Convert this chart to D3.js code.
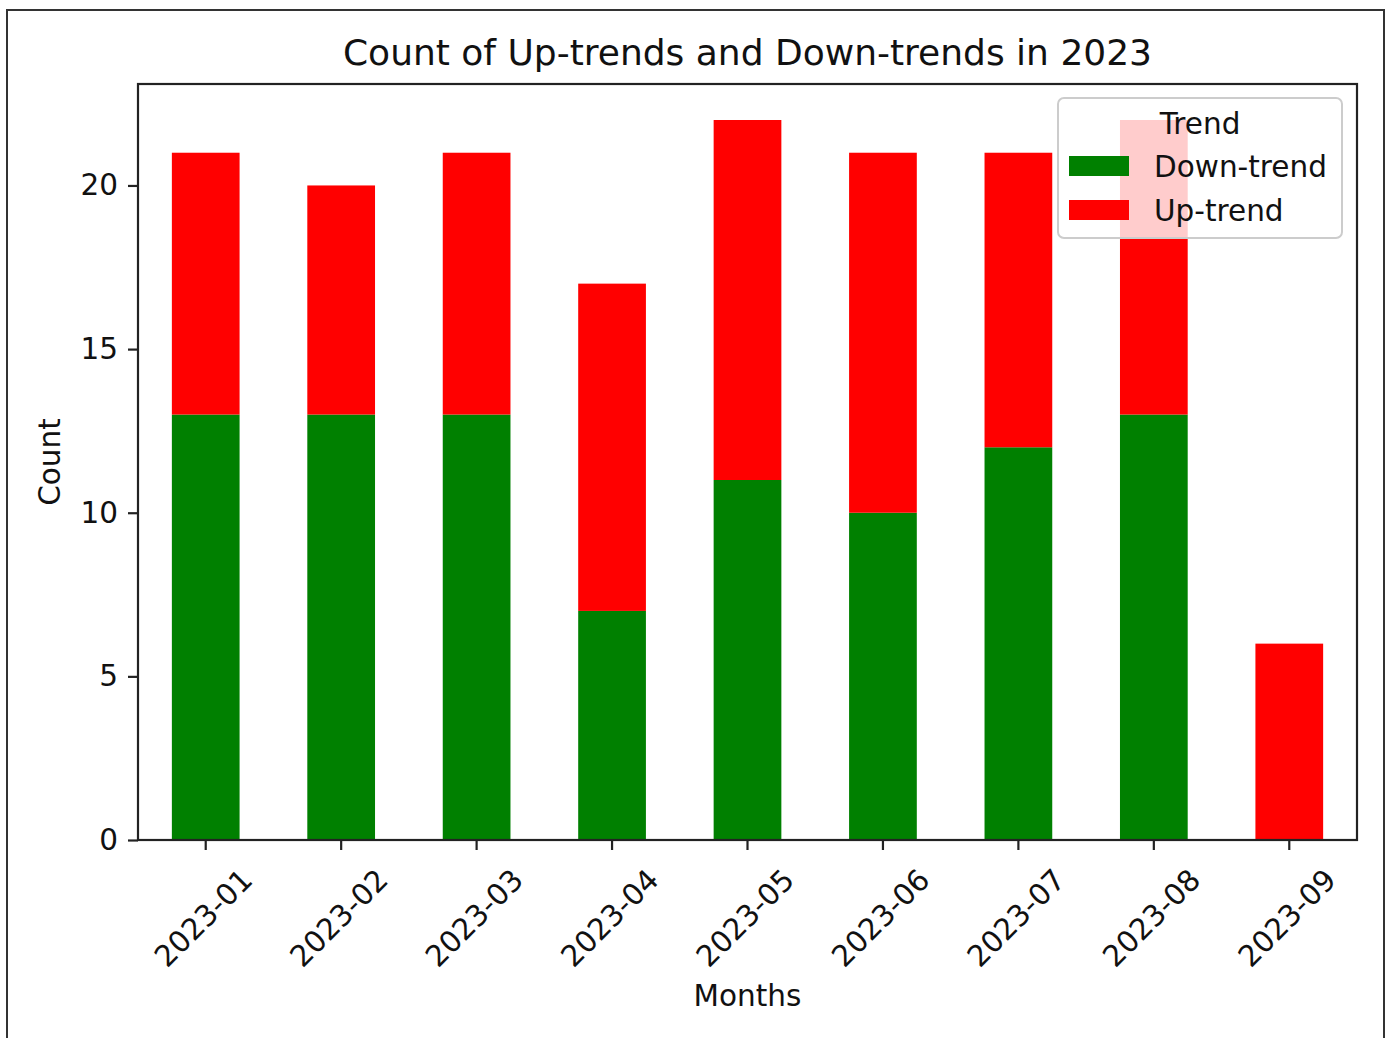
<!DOCTYPE html>
<html>
<head>
<meta charset="utf-8">
<script src="https://cdn.jsdelivr.net/npm/d3@7"></script>
<style>
  html, body { margin: 0; padding: 0; background: #fff; }
  svg { display: block; font-family: "DejaVu Sans", sans-serif; }
</style>
</head>
<body>
<svg id="chart" width="1392" height="1038"></svg>
<script>
// Monthly counts of trend days, stacked Down-trend (bottom) then Up-trend (top)
const months = ["2023-01", "2023-02", "2023-03", "2023-04", "2023-05", "2023-06", "2023-07", "2023-08", "2023-09"];
const downTrend = [13, 13, 13, 7, 11, 10, 12, 13, 0];
const upTrend = [8, 7, 8, 10, 11, 11, 9, 9, 6];
const seriesNames = ["Down-trend", "Up-trend"];
const seriesColors = ["#008000", "#ff0000"];
const yTicks = [0, 5, 10, 15, 20];

const svg = d3.select("#chart");
const plot = { left: 138, right: 1357, top: 84, bottom: 840 };
const fs = 29.5;      // tick / label font size
const titleFs = 36;   // title font size

// Figure frame
svg.append("rect")
  .attr("x", 7).attr("y", 10)
  .attr("width", 1377).attr("height", 1040)
  .attr("fill", "#fff").attr("stroke", "#333").attr("stroke-width", 2);

const rows = months.map((m, i) => ({ month: m, "Down-trend": downTrend[i], "Up-trend": upTrend[i] }));
const stacked = d3.stack().keys(seriesNames)(rows);
const maxTotal = d3.max(rows, r => r["Down-trend"] + r["Up-trend"]);

const x = d3.scaleBand().domain(months).range([plot.left, plot.right]).paddingInner(0.5).paddingOuter(0.25);
const y = d3.scaleLinear().domain([0, maxTotal * 1.05]).range([plot.bottom, plot.top]);

// Bars
const g = svg.append("g");
stacked.forEach((layer, k) => {
  g.append("g").attr("fill", seriesColors[k])
    .selectAll("rect").data(layer).join("rect")
    .attr("x", d => x(d.data.month))
    .attr("width", x.bandwidth())
    .attr("y", d => y(d[1]))
    .attr("height", d => y(d[0]) - y(d[1]));
});

// Y axis
const yAxis = svg.append("g").attr("transform", `translate(${plot.left},0)`)
  .call(d3.axisLeft(y).tickValues(yTicks).tickSize(10).tickPadding(10).tickFormat(d3.format("d")));
yAxis.select(".domain").remove();
yAxis.selectAll(".tick line").attr("stroke", "#222").attr("stroke-width", 2.2);
yAxis.selectAll(".tick text").attr("font-size", fs).attr("fill", "#111")
  .attr("font-family", "DejaVu Sans");

// X axis
const xAxis = svg.append("g").attr("transform", `translate(0,${plot.bottom})`)
  .call(d3.axisBottom(x).tickSize(10).tickPadding(10));
xAxis.select(".domain").remove();
xAxis.selectAll(".tick line").attr("stroke", "#222").attr("stroke-width", 2.2);
xAxis.selectAll(".tick text")
  .attr("font-size", fs).attr("fill", "#111").attr("font-family", "DejaVu Sans")
  .attr("text-anchor", "middle").attr("dominant-baseline", "central")
  .attr("x", -3).attr("y", 0).attr("dy", null)
  .attr("transform", "translate(0,76) rotate(-45)");

// Plot frame
svg.append("rect")
  .attr("x", plot.left).attr("y", plot.top)
  .attr("width", plot.right - plot.left).attr("height", plot.bottom - plot.top)
  .attr("fill", "none").attr("stroke", "#222").attr("stroke-width", 2.2);

// Titles
svg.append("text").attr("x", (plot.left + plot.right) / 2).attr("y", 65)
  .attr("text-anchor", "middle").attr("font-size", titleFs).attr("fill", "#111")
  .text("Count of Up-trends and Down-trends in 2023");
svg.append("text").attr("x", (plot.left + plot.right) / 2).attr("y", 1006)
  .attr("text-anchor", "middle").attr("font-size", fs).attr("fill", "#111")
  .text("Months");
svg.append("text").attr("transform", `translate(60,${(plot.top + plot.bottom) / 2}) rotate(-90)`)
  .attr("text-anchor", "middle").attr("font-size", fs).attr("fill", "#111")
  .text("Count");

// Legend
const lg = svg.append("g");
lg.append("rect").attr("x", 1058).attr("y", 98).attr("width", 284).attr("height", 140)
  .attr("rx", 6).attr("fill", "#fff").attr("fill-opacity", 0.8)
  .attr("stroke", "#cccccc").attr("stroke-width", 2);
lg.append("text").attr("x", 1200).attr("y", 134).attr("text-anchor", "middle")
  .attr("font-size", fs).attr("fill", "#111").text("Trend");
seriesNames.forEach((name, i) => {
  const cy = 166 + i * 44;
  lg.append("rect").attr("x", 1069).attr("y", cy - 10).attr("width", 60).attr("height", 20)
    .attr("fill", seriesColors[i]);
  lg.append("text").attr("x", 1154).attr("y", cy + 11)
    .attr("font-size", fs).attr("fill", "#111").text(name);
});
</script>
</body>
</html>
